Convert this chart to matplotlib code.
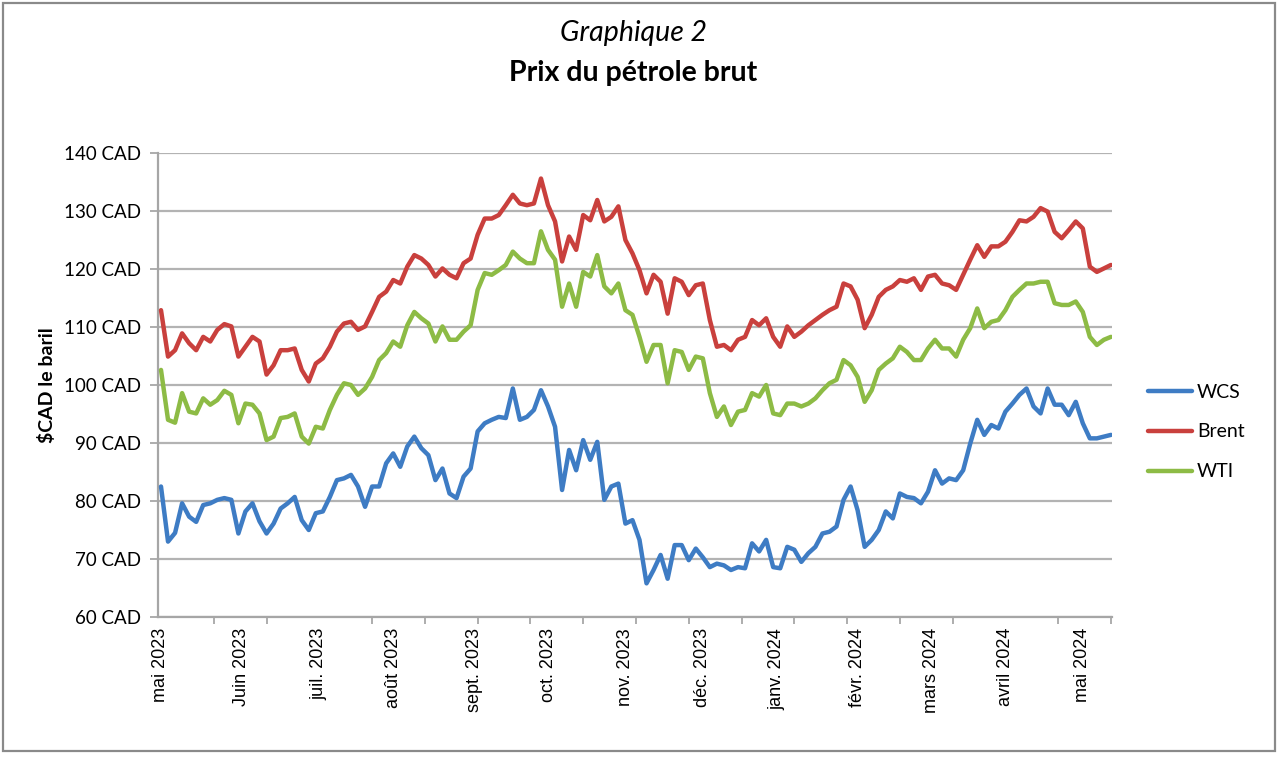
import numpy as np
import pandas as pd
import matplotlib
matplotlib.use("Agg")
import matplotlib.pyplot as plt
from matplotlib.patches import Rectangle
from matplotlib.ticker import FixedLocator
import matplotlib.transforms as mtransforms

# ---------------- data (CAD per barrel, sampled every 2nd trading day from 2023-05-01) -------------
start_date = "2023-05-01"
n_trading_days = 272
sample_step = 2

wcs = [82.5, 73.0, 74.5, 79.6, 77.3, 76.4, 79.3, 79.6, 80.2, 80.5, 80.2, 74.4, 78.2, 79.6, 76.5,
       74.4, 76.1, 78.7, 79.6, 80.7, 76.7, 75.0, 77.9, 78.2, 80.7, 83.6, 83.9,
       84.5, 82.5, 79.0, 82.5, 82.5, 86.5, 88.2, 85.9, 89.4, 91.1, 89.1, 87.9, 83.6, 85.6,
       81.3, 80.5, 84.2, 85.6, 92.0, 93.4, 94.0, 94.5, 94.3, 99.4, 94.0, 94.5, 95.7,
       99.1, 96.3, 92.8, 81.9, 88.8, 85.3, 90.5, 87.1, 90.2, 80.2, 82.5, 83.0, 76.1, 76.7,
       73.3, 65.8, 68.1, 70.7, 66.6, 72.4, 72.4, 69.8, 71.8, 70.3, 68.6, 69.2, 68.9,
       68.1, 68.6, 68.4, 72.7, 71.3, 73.3, 68.6, 68.4, 72.1, 71.6, 69.5, 71.0, 72.1, 74.4,
       74.7, 75.6, 80.2, 82.5, 78.4, 72.1, 73.3, 75.0, 78.2, 77.0, 81.3, 80.7, 80.5,
       79.6, 81.6, 85.3, 83.0, 83.9, 83.6, 85.3, 89.9, 94.0, 91.4, 93.1, 92.5, 95.4, 96.8,
       98.3, 99.4, 96.3, 95.1, 99.4, 96.6, 96.6, 94.8, 97.1, 93.4, 90.8, 90.8, 91.1, 91.4]

brent = [112.9, 104.9, 106.0, 108.9, 107.2, 106.0, 108.3, 107.5, 109.5, 110.5, 110.1, 104.9,
         106.6, 108.3, 107.5, 101.8, 103.4, 106.0, 106.0, 106.3, 102.6, 100.6, 103.7, 104.6,
         106.6, 109.2, 110.6,
         110.9, 109.5, 110.1, 112.6, 115.2, 116.1, 118.1, 117.5, 120.4, 122.4, 121.8, 120.7,
         118.7, 120.1, 119.0, 118.4, 121.0, 121.8, 125.9, 128.7, 128.7, 129.3, 131.0, 132.8,
         131.3, 131.0, 131.3,
         135.6, 131.0, 128.2, 121.3, 125.6, 123.3, 129.3, 128.4, 131.9, 128.2, 129.0, 130.8,
         125.0, 122.7, 119.8, 115.8, 119.0, 117.8, 112.3, 118.4, 117.8, 115.5, 117.2, 117.5,
         111.2, 106.6, 106.9,
         106.0, 107.8, 108.3, 111.2, 110.3, 111.5, 108.3, 106.6, 110.1, 108.3, 109.2, 110.3,
         111.2, 112.1, 112.9, 113.5, 117.5, 117.0, 114.7, 109.8, 112.1, 115.2, 116.4, 117.0,
         118.1, 117.8, 118.4,
         116.4, 118.7, 119.0, 117.5, 117.2, 116.4, 119.0, 121.6, 124.1, 122.1, 123.9, 123.9,
         124.7, 126.4, 128.4, 128.2, 129.0, 130.5, 129.9, 126.4, 125.3, 126.7, 128.2, 127.0,
         120.4, 119.5, 120.1, 120.7]

wti = [102.6, 94.0, 93.5, 98.6, 95.4, 95.1, 97.7, 96.6, 97.4, 99.0, 98.3, 93.4, 96.8, 96.6,
       95.1, 90.5, 91.1, 94.3, 94.5, 95.1, 91.1, 89.9, 92.8, 92.5, 95.7, 98.3, 100.3,
       100.0, 98.3, 99.4, 101.4, 104.3, 105.5, 107.5, 106.6, 110.3, 112.6, 111.5, 110.6, 107.5,
       110.1, 107.8, 107.8, 109.2, 110.3, 116.4, 119.3, 119.0, 119.8, 120.7, 123.0, 121.8,
       121.0, 121.0,
       126.5, 123.3, 121.6, 113.5, 117.5, 113.5, 119.5, 118.7, 122.4, 117.0, 115.8, 117.5,
       112.9, 112.1, 108.3, 104.0, 106.9, 106.9, 100.3, 106.0, 105.7, 102.6, 104.9, 104.6,
       98.6, 94.5, 96.3,
       93.1, 95.4, 95.7, 98.6, 98.0, 100.0, 95.1, 94.8, 96.8, 96.8, 96.3, 96.8, 97.7, 99.1,
       100.3, 100.9, 104.3, 103.4, 101.4, 97.1, 99.1, 102.6, 103.7, 104.6, 106.6, 105.7, 104.3,
       104.3, 106.3, 107.8, 106.3, 106.3, 104.9, 107.8, 109.8, 113.2, 109.8, 110.9, 111.2,
       112.9, 115.2, 116.4, 117.5, 117.5, 117.8, 117.8, 114.1, 113.8, 113.8, 114.4, 112.6,
       108.3, 106.9, 107.8, 108.3]

series_names = ["WCS", "Brent", "WTI"]
series_values = [wcs, brent, wti]
series_colors = ["#3e7cc4", "#c9403d", "#8dbb45"]

month_labels = ["mai 2023", "Juin 2023", "juil. 2023", "août 2023", "sept. 2023", "oct. 2023",
                "nov. 2023", "déc. 2023", "janv. 2024", "févr. 2024", "mars 2024", "avril 2024",
                "mai 2024"]
y_ticks = [60, 70, 80, 90, 100, 110, 120, 130, 140]

# ---------------- figure ----------------
days = pd.bdate_range(start_date, periods=n_trading_days)
pos = np.arange(n_trading_days)

fig = plt.figure(figsize=(12.8, 7.57), dpi=100)
fig.patch.set_facecolor("white")
fig.patches.append(Rectangle((3 / 1280, 6 / 757), 1272 / 1280, 748 / 757,
                             transform=fig.transFigure, fill=False,
                             edgecolor="#8a8a8a", linewidth=1.6, zorder=0))

ax = fig.add_axes([158 / 1280, 1 - 617 / 757, (1112 - 158) / 1280, (617 - 153) / 757])

lines = []
for name, vals, col in zip(series_names, series_values, series_colors):
    x = pos[::sample_step][:len(vals)]
    ln, = ax.plot(x, vals, color=col, lw=3.2, label=name, solid_joinstyle="round",
                  solid_capstyle="round", zorder=3)
    lines.append(ln)

ax.set_xlim(-0.85, 270.3)
ax.set_ylim(60, 140)
ax.set_yticks(y_ticks)
ax.set_yticklabels([f"{v} CAD" for v in y_ticks], fontfamily="Lato", fontsize=13.5)
ax.grid(axis="y", color="#b3b3b3", lw=1.6, zorder=1)
ax.set_axisbelow(True)

# month labels at first trading day of each month
month_first = pd.Series(pos, index=days).groupby(days.to_period("M")).first().values
ax.set_xticks(month_first[:len(month_labels)])
ax.set_xticklabels(month_labels, rotation=90, fontfamily="Liberation Sans", fontsize=13,
                   va="top", ha="center")
offset = mtransforms.ScaledTranslation(4 / 100, 0, fig.dpi_scale_trans)
for lab in ax.get_xticklabels():
    lab.set_transform(lab.get_transform() + offset)
ax.tick_params(axis="x", length=0, pad=8)
ax.xaxis.set_minor_locator(FixedLocator(np.arange(0, 271, 15)))
ax.tick_params(axis="x", which="minor", length=5, color="#a0a0a0", width=1.2)
ax.tick_params(axis="y", length=6, color="#a0a0a0", width=1.2, pad=6)

for side in ["top", "right"]:
    ax.spines[side].set_visible(False)
ax.spines["left"].set_color("#a6a6a6")
ax.spines["left"].set_linewidth(1.6)
ax.spines["bottom"].set_color("#a6a6a6")
ax.spines["bottom"].set_linewidth(1.6)

ax.set_ylabel("$CAD le baril", fontfamily="Lato", fontweight="bold", fontsize=14, labelpad=6)

fig.text(633 / 1280, 1 - 33 / 757, "Graphique 2", ha="center", va="center",
         fontfamily="Lato", fontstyle="italic", fontsize=20.5)
fig.text(633 / 1280, 1 - 73 / 757, "Prix du pétrole brut", ha="center", va="center",
         fontfamily="Lato", fontweight="bold", fontsize=20.5)

leg = fig.legend(handles=lines, loc="upper left", bbox_to_anchor=(1130 / 1280, 1 - 366 / 757),
                 bbox_transform=fig.transFigure, frameon=False,
                 prop={"family": "Lato", "size": 14}, handlelength=2.3, handletextpad=0.25,
                 labelspacing=1.18)

fig.savefig("out.png", dpi=100, facecolor="white")
